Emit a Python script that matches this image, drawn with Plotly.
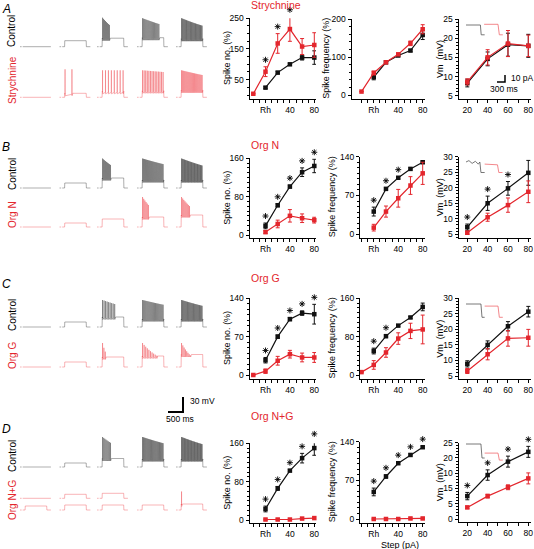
import plotly.graph_objects as go

W, H = 534, 549
RED = "#e3262d"
BLK = "#111111"
FONT = "Liberation Sans, Arial, sans-serif"

# ------------------------------------------------------------------ data
STEP_X = [-20, 0, 20, 40, 60, 80]          # -20 = pre-rheobase, 0 = Rh
VM_X = [20, 40, 60, 80]
STEP_TICKS = [-20, -10, 0, 10, 20, 30, 40, 50, 60, 70, 80]
STEP_TEXT = ["", "", "Rh", "", "", "", "40", "", "", "", "80"]
VM_TICKS = [20, 30, 40, 50, 60, 70, 80]
VM_TEXT = ["20", "", "40", "", "60", "", "80"]

# Row A : Strychnine
A_no_ctrl = [None, 24, 73, 100, 122, 122]
A_no_ctrl_err = [0, 3, 4, 3, 8, 22]
A_no_drug = [4, 76, 168, 215, 158, 163]
A_no_drug_err = [0, 16, 32, 40, 26, 40]
A_no_sig = [0, 20, 40]
A_fr_ctrl = [None, 47, 86, 104, 117, 158]
A_fr_ctrl_err = [0, 7, 3, 3, 3, 12]
A_fr_drug = [9, 58, 86, 107, 136, 173]
A_fr_drug_err = [0, 5, 3, 3, 6, 12]
A_fr_sig = []
A_vm_ctrl = [8.3, 14.6, 18.3, 18.0]
A_vm_ctrl_err = [1.0, 1.8, 3.0, 3.0]
A_vm_drug = [8.6, 15.0, 18.6, 18.0]
A_vm_drug_err = [0.8, 2.0, 3.4, 2.8]
A_vm_sig = []

# Row B : Org N
B_no_ctrl = [None, 19, 62, 101, 131, 144]
B_no_ctrl_err = [0, 6, 3, 3, 9, 14]
B_no_drug = [None, 6, 23, 40, 35, 31]
B_no_drug_err = [0, 3, 8, 13, 9, 6]
B_no_sig = [0, 20, 40, 60, 80]
B_fr_ctrl = [None, 41, 82, 102, 118, 130]
B_fr_ctrl_err = [0, 8, 2, 2, 2, 2]
B_fr_drug = [None, 12, 41, 65, 88, 110]
B_fr_drug_err = [0, 6, 10, 16, 16, 20]
B_fr_sig = [0, 20, 40]
B_vm_ctrl = [7.3, 15.0, 19.8, 24.8]
B_vm_ctrl_err = [1.0, 2.3, 2.2, 4.0]
B_vm_drug = [5.5, 10.5, 14.4, 18.7]
B_vm_drug_err = [0.5, 1.3, 2.3, 3.5]
B_vm_sig = [20, 40, 60]

# Row C : Org G
C_no_ctrl = [None, 27, 70, 102, 113, 111]
C_no_ctrl_err = [0, 5, 3, 3, 4, 18]
C_no_drug = [0, 7, 26, 38, 32, 32]
C_no_drug_err = [0, 4, 8, 7, 8, 9]
C_no_sig = [0, 20, 40, 60, 80]
C_fr_ctrl = [None, 50, 81, 103, 120, 142]
C_fr_ctrl_err = [0, 6, 3, 2, 2, 8]
C_fr_drug = [6, 21, 47, 76, 92, 95]
C_fr_drug_err = [0, 9, 10, 12, 16, 30]
C_fr_sig = [0, 20]
C_vm_ctrl = [8.9, 15.0, 21.0, 25.7]
C_vm_ctrl_err = [1.0, 1.3, 1.5, 1.7]
C_vm_drug = [6.6, 12.0, 17.1, 17.3]
C_vm_drug_err = [0.8, 1.8, 2.5, 2.7]
C_vm_sig = []

# Row D : Org N+G
D_no_ctrl = [None, 23, 66, 103, 129, 150]
D_no_ctrl_err = [0, 6, 4, 2, 10, 15]
D_no_drug = [None, 1, 1, 1, 3, 4]
D_no_drug_err = [0, 1, 1, 1, 1, 1]
D_no_sig = [0, 20, 40, 60, 80]
D_fr_ctrl = [None, 49, 77, 101, 116, 130]
D_fr_ctrl_err = [0, 7, 3, 2, 2, 2]
D_fr_drug = [None, 0, 0, 0, 1, 1]
D_fr_drug_err = [0, 1, 1, 1, 1, 1]
D_fr_sig = [0, 20, 40, 60, 80]
D_vm_ctrl = [7.5, 14.4, 18.8, 22.0]
D_vm_ctrl_err = [1.2, 1.7, 1.8, 1.8]
D_vm_drug = [3.8, 7.5, 10.4, 13.3]
D_vm_drug_err = [0.4, 0.6, 0.8, 1.8]
D_vm_sig = [20, 40, 60, 80]
D_vm_tickvals = [0, 5, 10, 15, 20, 25]
D_vm_ticktext = ["0", "5", "15", "10", "20", "25"]   # as printed

# Example recordings: per sweep (step mV, n spikes, spike window fraction, peak mV, amplitude decay)
A_ctrl_sweeps = [(0, 0, 0, 0, 1), (12, 0, 0, 0, 1), (17, 8, 0.35, 58, 0.96), (18, 16, 0.8, 57, 0.985), (16, 26, 1.0, 57, 0.988)]
A_drug_sweeps = [(0, 0, 0, 0, 1), (8, 2, 0.35, 56, 1), (12, 8, 1.0, 54, 1), (13, 14, 1.0, 54, 0.995), (14, 20, 1.0, 54, 0.99)]
B_ctrl_sweeps = [(0, 0, 0, 0, 1), (10, 0, 0, 0, 1), (20, 9, 0.4, 59, 0.97), (16, 22, 1.0, 59, 0.99), (16, 28, 1.0, 59, 0.99)]
B_drug_sweeps = [(0, 0, 0, 0, 1), (8, 0, 0, 0, 1), (16, 0, 0, 0, 1), (20, 6, 0.3, 60, 0.94), (24, 8, 0.4, 60, 0.95)]
C_ctrl_sweeps = [(0, 0, 0, 0, 1), (10, 0, 0, 0, 1), (20, 9, 0.6, 54, 0.98), (16, 20, 1.0, 54, 0.99), (16, 25, 1.0, 54, 0.99)]
C_drug_sweeps = [(0, 0, 0, 0, 1), (10, 0, 0, 0, 1), (20, 3, 0.15, 48, 0.8), (22, 10, 0.7, 48, 0.92), (25, 8, 0.45, 48, 0.9)]
D_ctrl_sweeps = [(0, 0, 0, 0, 1), (8, 0, 0, 0, 1), (17, 8, 0.4, 60, 0.97), (16, 24, 1.0, 60, 0.99), (16, 28, 1.0, 60, 0.99)]
D_drug1_sweeps = [(0, 0, 0, 0, 1), (8, 0, 0, 0, 1), (10, 0, 0, 0, 1)]
D_drug2_sweeps = [(8, 0, 0, 0, 1), (10, 0, 0, 0, 1), (10, 0, 0, 0, 1), (10, 0, 0, 0, 1), (12, 1, 0.0, 37, 1)]

# Current-step insets (ms, pA)
INS_A = dict(ct=[0, 540, 570, 700], ci=[0, 0, -14, -14], dt=[680, 1200, 1250, 1380], di=[1, 1, -14, -14])
INS_B = dict(ct=[0, 110, 230, 350, 460, 520, 560, 700], ci=[0, 2, -2, 1, -3, 0, -15, -15],
             dt=[700, 1180, 1230, 1370], di=[-3, -4, -15, -15])
INS_C = dict(ct=[0, 560, 600, 700], ci=[0, 0, -19, -19], dt=[700, 1200, 1250, 1380], di=[-3, -3, -19, -19])
INS_D = dict(ct=[0, 560, 600, 700], ci=[0, 0, -20, -20], dt=[700, 1200, 1250, 1380], di=[-13, -13, -23, -23])
SCALE_MV, SCALE_MS = 30, 500
SCALE_PA, SCALE_INS_MS = 10, 300

# ------------------------------------------------------------------ helpers
fig = go.Figure()
layout = {}
annotations = []
axn = [0]


def new_axes():
    axn[0] += 1
    n = axn[0]
    return n, ("x" if n == 1 else f"x{n}"), ("y" if n == 1 else f"y{n}"), \
        ("xaxis" if n == 1 else f"xaxis{n}"), ("yaxis" if n == 1 else f"yaxis{n}")


def px_x(p):
    return p / W


def px_y(p):
    return 1 - p / H


def lin_range(v_a, p_a, v_b, p_b, p_start, p_end):
    k = (v_b - v_a) / (p_b - p_a)
    return [v_a + (p_start - p_a) * k, v_a + (p_end - p_a) * k]


def hidden(dom, rng, anchor):
    return dict(domain=dom, range=rng, visible=False, showgrid=False, zeroline=False,
                fixedrange=True, anchor=anchor)


def axis_style(**kw):
    d = dict(showline=True, linecolor="black", linewidth=1, ticks="outside", ticklen=3,
             tickwidth=1, tickcolor="black", showgrid=False, zeroline=False, automargin=False,
             tickfont=dict(family=FONT, size=8.5, color="black"), fixedrange=True)
    d.update(kw)
    return d


STAR_GAP_PX = 7
STAR_ROOM_PX = 30


def panel(xdom_px, xr, ydom_px, yr, xticks, xtext, yticks, ytext, yminor, series, sig, xvals):
    n, xr_, yr_, xk, yk = new_axes()
    layout[xk] = axis_style(domain=[px_x(xdom_px[0]), px_x(xdom_px[1])], range=xr, anchor=yr_,
                            tickmode="array", tickvals=xticks, ticktext=xtext)
    layout[yk] = axis_style(domain=[px_y(ydom_px[1]), px_y(ydom_px[0])], range=yr, anchor=xr_,
                            tickmode="array", tickvals=yticks, ticktext=ytext, ticklen=3,
                            minor=dict(tickmode="linear", tick0=0, dtick=yminor, ticklen=2,
                                       ticks="outside", tickcolor="black"))
    for ys, es, col in series:
        fig.add_trace(go.Scatter(
            x=xvals, y=ys, xaxis=xr_, yaxis=yr_, mode="lines+markers", cliponaxis=False,
            line=dict(color=col, width=1.2), marker=dict(color=col, size=4.5, symbol="square"),
            error_y=dict(type="data", array=es, color=col, thickness=1, width=2),
            showlegend=False, hoverinfo="skip"))
    if sig:
        # overlay y axis with the same scale, extended upward so stars are never culled
        units_per_px = (yr[1] - yr[0]) / (ydom_px[1] - ydom_px[0])
        room = min(STAR_ROOM_PX, ydom_px[0] - 0.5)
        n2, _, yr2_, _, yk2 = new_axes()
        layout[yk2] = hidden([px_y(ydom_px[1]), px_y(ydom_px[0] - room)],
                             [yr[0], yr[1] + room * units_per_px], xr_)
        sy = []
        for sx in sig:
            i = xvals.index(sx)
            top = max((ys[i] or 0) + es[i] for ys, es, col in series)
            sy.append(top + STAR_GAP_PX * units_per_px)
        fig.add_trace(go.Scatter(x=sig, y=sy, xaxis=xr_, yaxis=yr2_, mode="markers",
                                 cliponaxis=False,
                                 marker=dict(symbol="asterisk-open", size=5, color="black",
                                             line=dict(color="black", width=0.9)),
                                 showlegend=False, hoverinfo="skip"))


def label(x, y, text, size=9, color="black", angle=0, xanchor="center", italic=False):
    annotations.append(dict(x=px_x(x), y=px_y(y), xref="paper", yref="paper", text=text,
                            showarrow=False, textangle=angle, xanchor=xanchor, yanchor="middle",
                            font=dict(family=FONT, size=size, color=color,
                                      style="italic" if italic else "normal")))


# ------------------------------------------------------------------ summary panels
rows = [
    dict(letter="A", lety=9, title="Strychnine", ty=5,
         no=(A_no_ctrl, A_no_ctrl_err, A_no_drug, A_no_drug_err, A_no_sig),
         fr=(A_fr_ctrl, A_fr_ctrl_err, A_fr_drug, A_fr_drug_err, A_fr_sig),
         vm=(A_vm_ctrl, A_vm_ctrl_err, A_vm_drug, A_vm_drug_err, A_vm_sig),
         p1=(250, 18.3, 0, 95, 98.5, [50, 150, 250], 25),
         p2=(200, 19, 0, 95, 98.5, [0, 100, 200], 20, 351.5),
         p3=(25, 19, 5, 95.7, 99, [5, 10, 15, 20, 25], None, 1)),
    dict(letter="B", lety=147, title="Org N", ty=144.5,
         no=(B_no_ctrl, B_no_ctrl_err, B_no_drug, B_no_drug_err, B_no_sig),
         fr=(B_fr_ctrl, B_fr_ctrl_err, B_fr_drug, B_fr_drug_err, B_fr_sig),
         vm=(B_vm_ctrl, B_vm_ctrl_err, B_vm_drug, B_vm_drug_err, B_vm_sig),
         p1=(160, 158.3, 0, 235, 238, [0, 80, 160], 10),
         p2=(140, 156.7, 0, 234.3, 238, [0, 70, 140], 10, 360),
         p3=(30, 156.7, 5, 234.3, 238, [5, 10, 15, 20, 25, 30], None, 1)),
    dict(letter="C", lety=284, title="Org G", ty=277.5,
         no=(C_no_ctrl, C_no_ctrl_err, C_no_drug, C_no_drug_err, C_no_sig),
         fr=(C_fr_ctrl, C_fr_ctrl_err, C_fr_drug, C_fr_drug_err, C_fr_sig),
         vm=(C_vm_ctrl, C_vm_ctrl_err, C_vm_drug, C_vm_drug_err, C_vm_sig),
         p1=(140, 298.3, 0, 375, 378.5, [0, 70, 140], 10),
         p2=(160, 298.3, 0, 375, 378.5, [0, 80, 160], 10, 360),
         p3=(30, 298.3, 5, 376, 379, [5, 10, 15, 20, 25, 30], None, 1)),
    dict(letter="D", lety=429, title="Org N+G", ty=415.5,
         no=(D_no_ctrl, D_no_ctrl_err, D_no_drug, D_no_drug_err, D_no_sig),
         fr=(D_fr_ctrl, D_fr_ctrl_err, D_fr_drug, D_fr_drug_err, D_fr_sig),
         vm=(D_vm_ctrl, D_vm_ctrl_err, D_vm_drug, D_vm_drug_err, D_vm_sig),
         p1=(160, 443.3, 0, 520, 523, [0, 80, 160], 10),
         p2=(140, 441.7, 0, 519, 523, [0, 70, 140], 10, 360),
         p3=(25, 442.7, 0, 519, 522, D_vm_tickvals, D_vm_ticktext, 1)),
]

for r in rows:
    # spike number
    vh, ph, vl, pl, bot, yt, mn = r["p1"]
    c, ce, d, de, sg = r["no"]
    panel((249.5, 316), lin_range(-20, 253.3, 80, 314.3, 249.5, 316),
          (ph, bot), lin_range(vl, pl, vh, ph, bot, ph), STEP_TICKS, STEP_TEXT,
          yt, [str(v) for v in yt], mn, [(c, ce, BLK), (d, de, RED)], sg, STEP_X)
    label(227.5, (ph + bot) / 2, "Spike no. (%)", size=9, angle=-90)
    # spike frequency
    vh, ph, vl, pl, bot, yt, mn, left = r["p2"]
    c, ce, d, de, sg = r["fr"]
    panel((left, 425), lin_range(-20, 361.5, 80, 422.7, left, 425),
          (ph, bot), lin_range(vl, pl, vh, ph, bot, ph), STEP_TICKS, STEP_TEXT,
          yt, [str(v) for v in yt], mn, [(c, ce, BLK), (d, de, RED)], sg, STEP_X)
    label(332 if left > 355 else 326, (ph + bot) / 2, "Spike frequency (%)", size=9, angle=-90)
    # Vm
    vh, ph, vl, pl, bot, yt, ytxt, mn = r["p3"]
    c, ce, d, de, sg = r["vm"]
    panel((458.5, 531), lin_range(20, 467.3, 80, 528.3, 458.5, 531),
          (ph, bot), lin_range(vl, pl, vh, ph, bot, ph), VM_TICKS, VM_TEXT,
          yt, ytxt if ytxt else [str(v) for v in yt], mn, [(c, ce, BLK), (d, de, RED)], sg, VM_X)
    label(440, (ph + bot) / 2, "Vm  (mV)", size=9, angle=-90)
    # letters and titles
    label(6, r["lety"], r["letter"], size=12, italic=True)
    label(249, r["ty"], r["title"], size=10.5, color=RED, xanchor="left")

label(400, 544.5, "Step (pA)", size=9)

# ------------------------------------------------------------------ example recordings
MS_PER_PX = SCALE_MS / 15.0
MV_PER_PX = SCALE_MV / 15.0
TR_RIGHT_PX = 232
n, xr_, yr_, xk, yk = new_axes()
layout[xk] = hidden([0, TR_RIGHT_PX / W], [0, TR_RIGHT_PX * MS_PER_PX], yr_)
layout[yk] = hidden([0, 1], [-H * MV_PER_PX, 0], xr_)
TR_X, TR_Y = xr_, yr_
SWEEP_X0_PX = [20, 59.5, 97, 137, 176]


def build_sweep(x0, base, spec):
    step, nsp, win, peak, decay = spec
    xs = [x0, x0 + 55, None, x0 + 90]
    ys = [base, base, None, base]
    t_on, t_off, t_end = x0 + 170, x0 + 890, x0 + 1030
    plateau = base + step
    xs += [t_on, t_on + 6]
    ys += [base, plateau]
    if nsp > 0:
        span = win * 700
        times = [t_on + 15 + (span - 15) * k / max(nsp - 1, 1) for k in range(nsp)]
        amp = peak
        for t in times:
            xs += [t - 2, t, t + 3]
            ys += [plateau - 2, base + amp, plateau - 5]
            amp *= decay
        xs.append(times[-1] + 30)
        ys.append(plateau)
    xs += [t_off, t_off + 6, t_end, None]
    ys += [plateau, base, base, None]
    return xs, ys


def trace_row(base_px, sweeps, color, width=0.4):
    X, Y = [], []
    base = -base_px * MV_PER_PX
    for i, spec in enumerate(sweeps):
        xs, ys = build_sweep(SWEEP_X0_PX[i] * MS_PER_PX, base, spec)
        X += xs
        Y += ys
    fig.add_trace(go.Scatter(x=X, y=Y, xaxis=TR_X, yaxis=TR_Y, mode="lines",
                             line=dict(color=color, width=width), showlegend=False,
                             hoverinfo="skip"))


CTRL_COL = "#333333"
DRUG_COL = "#ee4248"
trace_row(46.7, A_ctrl_sweeps, CTRL_COL)
trace_row(97.3, A_drug_sweeps, DRUG_COL)
trace_row(188, B_ctrl_sweeps, CTRL_COL)
trace_row(227, B_drug_sweeps, DRUG_COL)
trace_row(327, C_ctrl_sweeps, CTRL_COL)
trace_row(367, C_drug_sweeps, DRUG_COL)
trace_row(467, D_ctrl_sweeps, CTRL_COL)
trace_row(498.3, D_drug1_sweeps, DRUG_COL)
trace_row(510, D_drug2_sweeps, DRUG_COL)

# scale bar 30 mV / 500 ms
sb_x = 183 * MS_PER_PX
sb_y = -412 * MV_PER_PX
fig.add_trace(go.Scatter(x=[sb_x - SCALE_MS, sb_x, sb_x], y=[sb_y, sb_y, sb_y + SCALE_MV],
                         xaxis=TR_X, yaxis=TR_Y, mode="lines", line=dict(color="black", width=2),
                         showlegend=False, hoverinfo="skip"))
label(188, 401, f"{SCALE_MV} mV", size=8.5, xanchor="left")
label(180, 419, f"{SCALE_MS} ms", size=8.5)

# row labels
for y, t, col in [(31, "Control", "black"), (80, "Strychnine", RED),
                  (174, "Control", "black"), (215, "Org N", RED),
                  (315, "Control", "black"), (356, "Org G", RED),
                  (456, "Control", "black"), (500, "Org N+G", RED)]:
    label(12, y, t, size=10, color=col, angle=-90)

# ------------------------------------------------------------------ current insets
PA_PER_PX = SCALE_PA / 7.0
MSI_PER_PX = SCALE_INS_MS / 8.0
for ins, level_px in [(INS_A, 25), (INS_B, 162), (INS_C, 304), (INS_D, 444)]:
    n, xr_, yr_, xk, yk = new_axes()
    layout[xk] = hidden([px_x(466), px_x(506)], [0, 40 * MSI_PER_PX], yr_)
    layout[yk] = hidden([px_y(level_px + 20), px_y(level_px - 4)], [-20 * PA_PER_PX, 4 * PA_PER_PX], xr_)
    fig.add_trace(go.Scatter(x=ins["ct"], y=ins["ci"], xaxis=xr_, yaxis=yr_, mode="lines",
                             line=dict(color="#555555", width=0.8), showlegend=False, hoverinfo="skip"))
    fig.add_trace(go.Scatter(x=ins["dt"], y=ins["di"], xaxis=xr_, yaxis=yr_, mode="lines",
                             line=dict(color="#f06a6e", width=0.8), showlegend=False, hoverinfo="skip"))

# inset scale bar (10 pA / 300 ms)
n, xr_, yr_, xk, yk = new_axes()
layout[xk] = hidden([px_x(490), px_x(531)], [0, 41 * MSI_PER_PX], yr_)
layout[yk] = hidden([px_y(92), px_y(72)], [0, 20 * PA_PER_PX], xr_)
bx, by = 15 * MSI_PER_PX, 10 * PA_PER_PX
fig.add_trace(go.Scatter(x=[bx - SCALE_INS_MS, bx, bx], y=[by, by, by + SCALE_PA], xaxis=xr_, yaxis=yr_,
                         mode="lines", line=dict(color="black", width=1.5), showlegend=False,
                         hoverinfo="skip"))
label(509, 78, f"{SCALE_PA} pA", size=8.5, xanchor="left")
label(504, 89, f"{SCALE_INS_MS} ms", size=8.5)

layout.update(dict(width=W, height=H, margin=dict(l=0, r=0, t=0, b=0),
                   paper_bgcolor="white", plot_bgcolor="rgba(0,0,0,0)", showlegend=False,
                   font=dict(family=FONT, size=9, color="black"), annotations=annotations))
fig.update_layout(**layout)
fig.write_html("out.html", config={"displayModeBar": False},
               post_script="document.body.style.margin='0';document.body.style.padding='0';"
                           "document.body.style.overflow='hidden';")
